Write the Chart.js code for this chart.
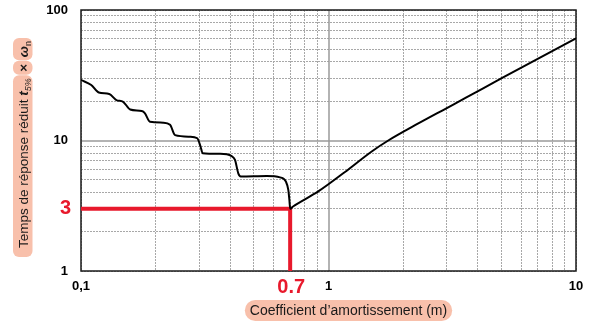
<!DOCTYPE html>
<html><head><meta charset="utf-8">
<script src="https://cdn.jsdelivr.net/npm/chart.js@4/dist/chart.umd.min.js"></script>
<style>html,body{margin:0;padding:0;background:#fff;}canvas{display:block;}</style>
</head><body>
<canvas id="c" width="589" height="323"></canvas>
<script>
// ---- data ----
const dampingM = [0.1, 0.110, 0.118, 0.130, 0.139, 0.148, 0.158, 0.176, 0.181, 0.190, 0.215, 0.229, 0.240, 0.276, 0.295, 0.304, 0.310, 0.364, 0.406, 0.419, 0.432, 0.442, 0.563, 0.637, 0.673, 0.688, 0.695, 0.700, 0.719, 0.909, 1.166, 1.495, 1.744, 2.306, 2.956, 3.561, 5.01, 10];
const reducedTime = [29.1, 26.6, 23.3, 22.7, 20.4, 19.8, 17.3, 16.8, 16.2, 13.9, 13.7, 13.2, 11.0, 10.7, 10.4, 9.0, 8.0, 7.9, 7.6, 7.1, 5.6, 5.3, 5.35, 5.22, 4.84, 4.18, 3.5, 3.0, 3.12, 4.07, 5.74, 8.24, 10.0, 13.5, 17.43, 21.09, 30.0, 60.7];
const refM = [0.1, 0.7, 0.7];
const refT = [3, 3, 1];
const refLabelM = '0.7';
const refLabelT = '3';
const xTickValues = [0.1,0.2,0.3,0.4,0.5,0.6,0.7,0.8,0.9,1,2,3,4,5,6,7,8,9,10];
const yTickValues = [1,2,3,4,5,6,7,8,9,10,20,30,40,50,60,70,80,90,100];
const xTickLabels = {'0.1':'0,1','1':'1','10':'10'};
const yTickLabels = {'1':'1','10':'10','100':'100'};
const xMajor = [1];
const yMajor = [10];
const xTitle = 'Coefficient d’amortissement (m)';
const yTitlePills = [
  [{t:'Temps de réponse réduit ', f:'normal'}, {t:'t', f:'italic bold'}, {t:'5%', f:'italic', sub:true}],
  [{t:'×', f:'bold'}],
  [{t:'ω', f:'italic bold'}, {t:'n', f:'normal', sub:true}]
];

const FAM = '"Liberation Sans", Arial, sans-serif';
const PILL = '#f8c0ab';
const RED = '#e8192c';

function rr(ctx, x, y, w, h, r) {
  ctx.beginPath();
  ctx.moveTo(x + r, y);
  ctx.lineTo(x + w - r, y); ctx.arcTo(x + w, y, x + w, y + r, r);
  ctx.lineTo(x + w, y + h - r); ctx.arcTo(x + w, y + h, x + w - r, y + h, r);
  ctx.lineTo(x + r, y + h); ctx.arcTo(x, y + h, x, y + h - r, r);
  ctx.lineTo(x, y + r); ctx.arcTo(x, y, x + r, y, r);
  ctx.closePath();
}

const decor = {
  id: 'decor',
  beforeDatasetsDraw(chart) {
    const {ctx, chartArea: a, scales: {x, y}} = chart;
    ctx.save();
    ctx.strokeStyle = '#9a9a9a'; ctx.lineWidth = 1.5;
    xMajor.forEach(v => { const p = Math.round(x.getPixelForValue(v)); ctx.beginPath(); ctx.moveTo(p, a.top); ctx.lineTo(p, a.bottom); ctx.stroke(); });
    yMajor.forEach(v => { const p = Math.round(y.getPixelForValue(v)); ctx.beginPath(); ctx.moveTo(a.left, p); ctx.lineTo(a.right, p); ctx.stroke(); });
    ctx.strokeStyle = '#1a1a1a'; ctx.lineWidth = 1.5;
    ctx.strokeRect(a.left, a.top, a.right - a.left, a.bottom - a.top);
    ctx.restore();
  },
  afterDraw(chart) {
    const {ctx, scales: {x, y}} = chart;
    ctx.save();
    ctx.fillStyle = RED;
    ctx.font = 'bold 20px ' + FAM;
    ctx.textAlign = 'right'; ctx.textBaseline = 'middle';
    ctx.fillText(refLabelT, 71, y.getPixelForValue(refT[0]));
    ctx.textAlign = 'center'; ctx.textBaseline = 'alphabetic';
    ctx.fillText(refLabelM, x.getPixelForValue(refM[1]) + 1, 293);
    ctx.font = '14px ' + FAM;
    const w = ctx.measureText(xTitle).width;
    const cx = 348.5;
    ctx.fillStyle = PILL;
    rr(ctx, cx - w / 2 - 5, 300, w + 10, 21, 10.5); ctx.fill();
    ctx.fillStyle = '#1a1a1a'; ctx.textAlign = 'center';
    ctx.fillText(xTitle, cx, 315);
    ctx.rotate(-Math.PI / 2);
    let pos = -257;
    ctx.textAlign = 'left'; ctx.textBaseline = 'alphabetic';
    yTitlePills.forEach((pill, pi) => {
      const pad = pi === 0 ? 9 : 3;
      let width = 0;
      pill.forEach(s => {
        ctx.font = s.f + ' ' + (s.sub ? 9 : 13.5) + 'px ' + FAM;
        width += ctx.measureText(s.t).width;
      });
      const total = width + pad + 3;
      ctx.fillStyle = PILL;
      rr(ctx, pos, 13, total, 19.5, 6); ctx.fill();
      let tx = pos + pad;
      ctx.fillStyle = '#1a1a1a';
      pill.forEach(s => {
        ctx.font = s.f + ' ' + (s.sub ? 9 : 13.5) + 'px ' + FAM;
        ctx.fillText(s.t, tx, s.sub ? 30.5 : 28);
        tx += ctx.measureText(s.t).width;
      });
      pos += total + 0.5;
    });
    ctx.restore();
  }
};

const gridColor = (major) => (ctx) => (ctx.tick && major.includes(ctx.tick.value)) ? 'rgba(0,0,0,0)' : '#a8a8a8';
const zeroPad = s => { s.paddingLeft = 0; s.paddingRight = 0; s.paddingTop = 0; s.paddingBottom = 0; };

new Chart(document.getElementById('c'), {
  type: 'scatter',
  data: {
    datasets: [
      {
        data: dampingM.map((m, i) => ({x: m, y: reducedTime[i]})),
        showLine: true, borderColor: '#000', borderWidth: 2, pointRadius: 0,
        cubicInterpolationMode: 'monotone', order: 0
      },
      {
        data: refM.map((m, i) => ({x: m, y: refT[i]})),
        showLine: true, borderColor: RED, borderWidth: 4, pointRadius: 0,
        tension: 0, borderJoinStyle: 'miter', borderCapStyle: 'butt', clip: false, order: 1
      }
    ]
  },
  options: {
    responsive: false, animation: false, devicePixelRatio: 1,
    layout: {padding: {left: 0, right: 13, top: 10, bottom: 0}},
    plugins: {legend: {display: false}, tooltip: {enabled: false}},
    scales: {
      x: {
        type: 'logarithmic', min: 0.1, max: 10, position: 'bottom',
        afterBuildTicks: s => { s.ticks = xTickValues.map(v => ({value: v})); },
        afterFit: s => { s.height = 52; zeroPad(s); },
        ticks: {autoSkip: false, maxRotation: 0, padding: 8, color: '#000',
          font: {family: FAM, size: 13, weight: 'bold'},
          callback: v => xTickLabels[String(v)] ?? ''},
        grid: {drawTicks: false, color: gridColor(xMajor), lineWidth: 1},
        border: {display: false, dash: [2, 1]}
      },
      y: {
        type: 'logarithmic', min: 1, max: 100, position: 'left',
        afterBuildTicks: s => { s.ticks = yTickValues.map(v => ({value: v})); },
        afterFit: s => { s.width = 81; zeroPad(s); },
        ticks: {autoSkip: false, padding: 13, color: '#000',
          font: {family: FAM, size: 13, weight: 'bold'},
          callback: v => yTickLabels[String(v)] ?? ''},
        grid: {drawTicks: false, color: gridColor(yMajor), lineWidth: 1},
        border: {display: false, dash: [2, 1]}
      }
    }
  },
  plugins: [decor]
});
</script>
</body></html>
